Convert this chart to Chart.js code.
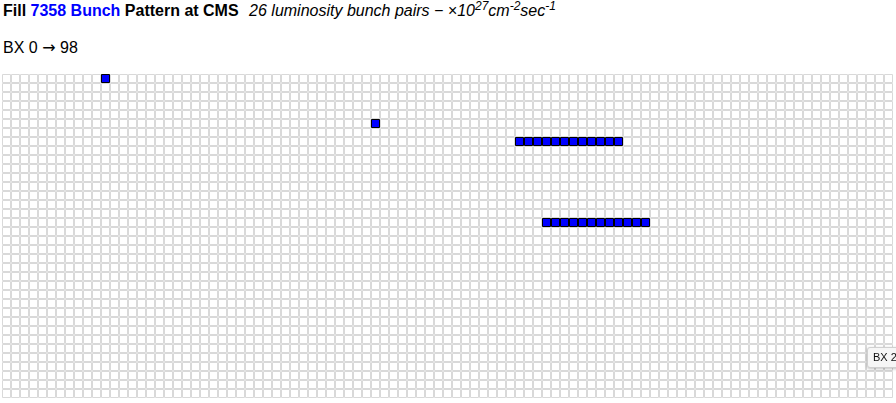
<!DOCTYPE html>
<html>
<head>
<meta charset="utf-8">
<script src="https://cdn.jsdelivr.net/npm/chart.js@4/dist/chart.umd.min.js"></script>
<style>
  html, body { margin: 0; padding: 0; width: 896px; height: 403px; overflow: hidden; background: #fff;
    font-family: "Liberation Sans", Arial, Helvetica, sans-serif; }
  #title { position: absolute; left: 3px; top: 2px; font-size: 16px; white-space: nowrap; color: #000; }
  #title b { font-weight: bold; }
  #title .blue { color: #0000ff; }
  #title i { margin-left: 6px; }
  #title sup { font-size: 12px; line-height: 0; }
  #sub { position: absolute; left: 3px; top: 38px; font-size: 16px; white-space: nowrap; }
  #sub .arr { font-family: "DejaVu Sans", sans-serif; font-size: 16px; }
  #wrap { position: absolute; left: 2px; top: 74px; width: 891px; height: 324px; }
  #tip { position: absolute; left: 867px; top: 347px; height: 19px; padding: 0 5px; font-size: 11px; line-height: 19px;
    background: #f6f6f6; border: 1px solid #d0d0d0; border-radius: 3px; box-shadow: 0 1px 3px rgba(0,0,0,0.25);
    white-space: nowrap; color: #111; }
</style>
</head>
<body>
<div id="title"><b>Fill <span class="blue">7358 Bunch</span> Pattern at CMS</b> <i>26 luminosity bunch pairs − ×10<sup>27</sup>cm<sup>-2</sup>sec<sup>-1</sup></i></div>
<div id="sub">BX 0 <span class="arr">→</span> 98</div>
<div id="wrap"><canvas id="c" width="891" height="324"></canvas></div>
<div id="tip">BX 2868</div>
<script>
// ---- data ----
const totalBX = 3564;          // LHC bunch crossing slots
const bxPerRow = 99;           // BX per row of the pattern grid
const collidingBX = [
  11,
  536,
  750, 751, 752, 753, 754, 755, 756, 757, 758, 759, 760, 761,
  1644, 1645, 1646, 1647, 1648, 1649, 1650, 1651, 1652, 1653, 1654, 1655
];

// ---- build point tables from BX indices ----
const nRows = Math.ceil(totalBX / bxPerRow);
const toCell = bx => ({ x: bx % bxPerRow, y: Math.floor(bx / bxPerRow), bx: bx });
const allCells = Array.from({ length: totalBX }, (_, bx) => toCell(bx));
const filledCells = collidingBX.map(toCell);

const r = 4 * Math.SQRT2; // rect half-side 4px

new Chart(document.getElementById('c'), {
  type: 'scatter',
  data: {
    datasets: [
      {
        label: 'colliding',
        data: filledCells,
        pointStyle: 'rect',
        pointRadius: r,
        pointHoverRadius: r,
        backgroundColor: '#0000ff',
        borderColor: '#000000',
        borderWidth: 1,
        clip: false,
        order: 0
      },
      {
        label: 'slots',
        data: allCells,
        pointStyle: 'rect',
        pointRadius: r,
        pointHoverRadius: r,
        backgroundColor: '#ffffff',
        borderColor: '#d9d9d9',
        borderWidth: 1,
        clip: false,
        order: 1
      }
    ]
  },
  options: {
    responsive: false,
    animation: false,
    events: [],
    layout: { padding: 0, autoPadding: false },
    plugins: { legend: { display: false }, tooltip: { enabled: false } },
    scales: {
      x: { type: 'linear', min: -0.5, max: bxPerRow - 0.5, display: false },
      y: { type: 'linear', min: -0.5, max: nRows - 0.5, reverse: true, display: false }
    }
  }
});
</script>
</body>
</html>
